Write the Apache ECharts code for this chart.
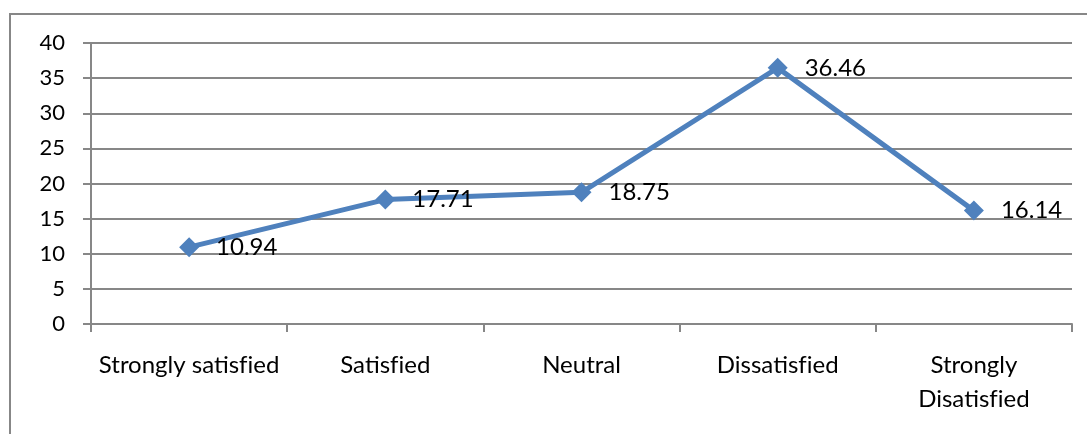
<!DOCTYPE html>
<html>
<head>
<meta charset="utf-8">
<script src="https://cdn.jsdelivr.net/npm/echarts@6/dist/echarts.min.js"></script>
<style>
  html, body { margin: 0; padding: 0; background: #fff; }
  #chart { width: 1087px; height: 434px; }
</style>
</head>
<body>
<div id="chart"></div>
<script>
// Satisfaction levels and the share of respondents (%) in each
const categories = ['Strongly satisfied', 'Satisfied', 'Neutral', 'Dissatisfied', 'Strongly\nDisatisfied'];
const percentages = [10.94, 17.71, 18.75, 36.46, 16.14];
const yTicks = { min: 0, max: 40, step: 5 };

const axisGrey = '#878787';
const font = 'Lato, "Open Sans", sans-serif';

// keep "f" and "i" as separate glyphs instead of the font's ligature
const noLigature = s => s.replace(/fi/g, 'f\u200Ci');

const chart = echarts.init(document.getElementById('chart'), null, { renderer: 'canvas' });
chart.setOption({
  backgroundColor: '#ffffff',
  animation: false,
  graphic: [{
    type: 'rect',
    shape: { x: 10, y: 14, width: 1300, height: 600 },
    style: { fill: 'none', stroke: axisGrey, lineWidth: 2 },
    silent: true
  }],
  grid: { left: 91, right: 15, top: 43, bottom: 110 },
  xAxis: {
    type: 'category',
    data: categories,
    boundaryGap: true,
    axisLine: { show: true, lineStyle: { color: axisGrey, width: 2 } },
    axisTick: { show: true, alignWithLabel: false, length: 8, lineStyle: { color: axisGrey, width: 2 } },
    axisLabel: {
      interval: 0,
      margin: 24,
      color: '#000',
      fontFamily: font,
      fontSize: 24,
      lineHeight: 34,
      formatter: noLigature
    }
  },
  yAxis: {
    type: 'value',
    min: yTicks.min,
    max: yTicks.max,
    interval: yTicks.step,
    axisLine: { show: true, lineStyle: { color: axisGrey, width: 2 } },
    axisTick: { show: true, length: 8, lineStyle: { color: axisGrey, width: 2 } },
    splitLine: { show: true, lineStyle: { color: axisGrey, width: 2 } },
    axisLabel: {
      margin: 26,
      color: '#000',
      fontFamily: font,
      fontSize: 22
    }
  },
  series: [{
    type: 'line',
    data: percentages,
    symbol: 'diamond',
    symbolSize: 20,
    showAllSymbol: true,
    lineStyle: { color: '#4F81BD', width: 5 },
    itemStyle: { color: '#4F81BD' },
    label: {
      show: true,
      position: 'right',
      distance: 17,
      color: '#000',
      fontFamily: font,
      fontSize: 24,
      formatter: p => p.value.toFixed(2)
    }
  }]
});
</script>
</body>
</html>
